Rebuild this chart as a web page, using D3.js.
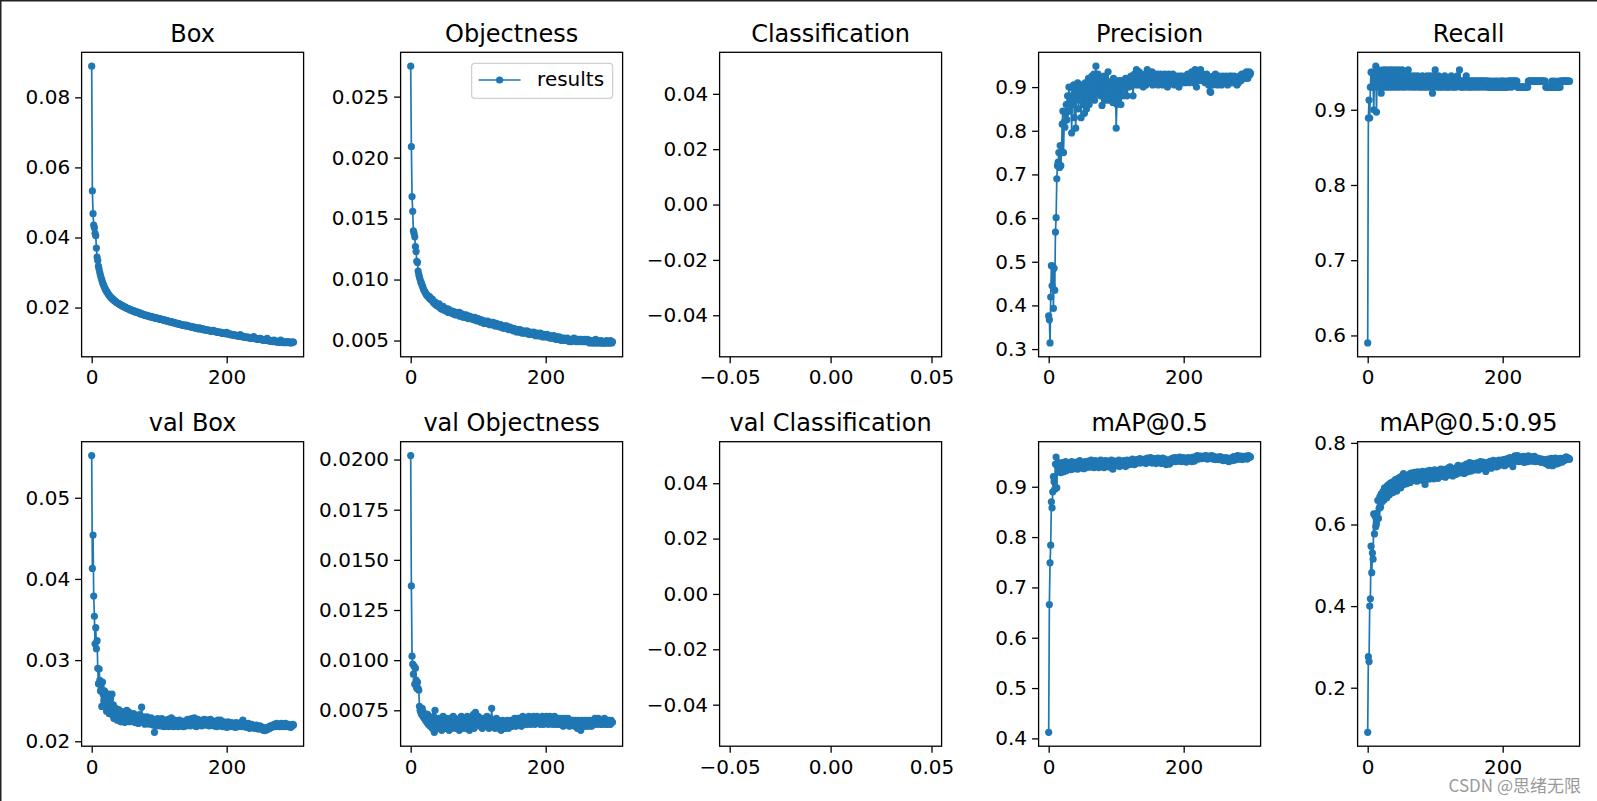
<!DOCTYPE html>
<html>
<head>
<meta charset="utf-8">
<script src="https://cdn.jsdelivr.net/npm/d3@7"></script>
<style>
  body { margin: 0; background: #fff; }
  svg { display: block; font-family: "DejaVu Sans", sans-serif; }
</style>
</head>
<body>
<div id="chart"></div>
<script>
// ------- Data (300 epochs) -------
const epochs = d3.range(300);

const box = [
  .0889,.0533,.0468,.0435,.0428,.0412,.0405,.0370,.0344,.0334,
  .0318,.0309,.0300,.0292,.0285,.0279,.0272,.0267,.0262,.0258,
  .0253,.0250,.0246,.0244,.0240,.0237,.0235,.0232,.0230,.0228,
  .0226,.0225,.0222,.0221,.0219,.0218,.0216,.0215,.0213,.0212,
  .0211,.0210,.0209,.0207,.0206,.0206,.0204,.0203,.0202,.0201,
  .0201,.0199,.0198,.0198,.0196,.0196,.0195,.0193,.0194,.0192,
  .0192,.0190,.0191,.0189,.0188,.0189,.0186,.0187,.0185,.0186,
  .0185,.0183,.0184,.0182,.0181,.0182,.0180,.0179,.0180,.0178,
  .0178,.0177,.0178,.0176,.0175,.0176,.0174,.0175,.0173,.0174,
  .0173,.0172,.0171,.0172,.0170,.0171,.0169,.0170,.0168,.0169,
  .0168,.0167,.0168,.0166,.0166,.0165,.0166,.0164,.0163,.0164,
  .0163,.0162,.0163,.0161,.0160,.0161,.0159,.0160,.0158,.0159,
  .0158,.0157,.0158,.0156,.0155,.0156,.0154,.0155,.0153,.0154,
  .0153,.0152,.0152,.0151,.0150,.0151,.0149,.0150,.0148,.0149,
  .0150,.0148,.0147,.0148,.0146,.0147,.0145,.0146,.0144,.0145,
  .0144,.0143,.0144,.0142,.0142,.0141,.0142,.0140,.0141,.0139,
  .0142,.0140,.0139,.0140,.0138,.0139,.0137,.0138,.0136,.0137,
  .0136,.0136,.0135,.0136,.0134,.0135,.0133,.0134,.0132,.0133,
  .0135,.0132,.0133,.0131,.0132,.0130,.0131,.0129,.0130,.0129,
  .0130,.0128,.0129,.0127,.0128,.0126,.0127,.0126,.0125,.0126,
  .0129,.0125,.0126,.0124,.0125,.0123,.0124,.0122,.0123,.0122,
  .0123,.0121,.0122,.0120,.0121,.0120,.0119,.0120,.0118,.0119,
  .0123,.0118,.0119,.0117,.0118,.0116,.0117,.0116,.0115,.0116,
  .0115,.0116,.0114,.0115,.0113,.0114,.0113,.0112,.0113,.0112,
  .0117,.0112,.0111,.0112,.0110,.0111,.0110,.0109,.0110,.0109,
  .0112,.0109,.0108,.0109,.0107,.0108,.0107,.0106,.0107,.0106,
  .0112,.0106,.0105,.0106,.0104,.0105,.0104,.0105,.0103,.0104,
  .0107,.0104,.0103,.0104,.0102,.0103,.0102,.0103,.0101,.0102,
  .0107,.0102,.0101,.0102,.0100,.0101,.0102,.0100,.0101,.0100,
  .0103,.0101,.0100,.0102,.0100,.0099,.0101,.0100,.0102,.0101
];

const objectness = [
  .0275,.0209,.0168,.0156,.0140,.0138,.0135,.0127,.0123,.0115,
  .0114,.0107,.0104,.0102,.0100,.0098,.0097,.0095,.0094,.0092,
  .0091,.0090,.0089,.0088,.0087,.0087,.0086,.0085,.0086,.0084,
  .0084,.0083,.0084,.0082,.0081,.0082,.0080,.0081,.0079,.0080,
  .0079,.0078,.0080,.0077,.0078,.0076,.0077,.0076,.0078,.0075,
  .0076,.0075,.0076,.0074,.0075,.0076,.0073,.0074,.0075,.0073,
  .0074,.0073,.0072,.0074,.0072,.0073,.0071,.0072,.0073,.0071,
  .0072,.0071,.0073,.0070,.0071,.0072,.0070,.0071,.0069,.0071,
  .0070,.0069,.0071,.0069,.0070,.0068,.0069,.0070,.0068,.0069,
  .0069,.0068,.0069,.0067,.0068,.0069,.0067,.0068,.0066,.0067,
  .0068,.0066,.0067,.0066,.0065,.0067,.0066,.0065,.0066,.0064,
  .0066,.0065,.0064,.0065,.0066,.0064,.0065,.0063,.0064,.0065,
  .0064,.0063,.0065,.0063,.0064,.0062,.0063,.0064,.0062,.0063,
  .0063,.0062,.0061,.0063,.0062,.0061,.0062,.0060,.0061,.0062,
  .0061,.0060,.0062,.0060,.0061,.0059,.0060,.0061,.0059,.0060,
  .0060,.0059,.0058,.0060,.0059,.0058,.0059,.0057,.0058,.0059,
  .0058,.0057,.0059,.0057,.0058,.0056,.0057,.0058,.0056,.0057,
  .0057,.0056,.0058,.0056,.0057,.0055,.0056,.0057,.0055,.0056,
  .0056,.0055,.0057,.0055,.0056,.0054,.0055,.0056,.0054,.0055,
  .0055,.0054,.0056,.0054,.0055,.0053,.0054,.0055,.0053,.0054,
  .0054,.0053,.0055,.0053,.0054,.0053,.0052,.0054,.0053,.0052,
  .0053,.0052,.0054,.0052,.0053,.0051,.0052,.0053,.0051,.0052,
  .0053,.0051,.0052,.0050,.0052,.0051,.0050,.0052,.0051,.0050,
  .0051,.0050,.0052,.0050,.0051,.0049,.0050,.0051,.0049,.0050,
  .0051,.0050,.0052,.0050,.0051,.0049,.0050,.0051,.0049,.0050,
  .0051,.0050,.0049,.0051,.0050,.0049,.0050,.0049,.0051,.0049,
  .0050,.0049,.0051,.0049,.0050,.0048,.0049,.0050,.0049,.0048,
  .0049,.0050,.0048,.0049,.0051,.0048,.0049,.0050,.0048,.0049,
  .0049,.0048,.0050,.0048,.0049,.0048,.0048,.0049,.0048,.0049,
  .0050,.0048,.0049,.0048,.0049,.0048,.0050,.0049,.0048,.0049
];

// zero values are not plotted, so nothing is left in the classification series
const classification = [];

const precision = [
  .376,.367,.314,.419,.491,.445,.490,.393,.485,.435,
  .568,.601,.690,.720,.728,.750,.716,.766,.720,.752,
  .815,.845,.750,.820,.808,.838,.860,.825,.880,.862,
  .900,.845,.870,.880,.795,.898,.860,.905,.830,.890,
  .806,.900,.880,.910,.850,.895,.870,.905,.830,.885,
  .900,.860,.890,.840,.910,.880,.850,.905,.875,.920,
  .860,.895,.915,.875,.925,.890,.900,.930,.870,.915,
  .948,.885,.910,.930,.895,.920,.900,.880,.915,.858,
  .905,.890,.925,.880,.900,.870,.915,.895,.935,.880,
  .900,.870,.910,.890,.905,.865,.920,.895,.880,.910,
  .806,.860,.900,.870,.915,.880,.905,.860,.895,.915,
  .880,.900,.915,.895,.920,.905,.880,.910,.920,.900,
  .915,.905,.925,.910,.920,.880,.915,.930,.905,.920,
  .940,.915,.925,.905,.935,.920,.910,.930,.915,.925,
  .900,.920,.910,.930,.905,.920,.940,.915,.935,.910,
  .925,.910,.920,.935,.905,.920,.915,.930,.910,.925,
  .915,.930,.905,.920,.925,.910,.930,.915,.920,.905,
  .925,.910,.930,.920,.915,.925,.900,.920,.930,.915,
  .920,.910,.925,.915,.930,.920,.905,.925,.915,.920,
  .910,.925,.915,.900,.920,.925,.915,.910,.925,.920,
  .915,.920,.910,.925,.915,.920,.930,.915,.910,.925,
  .920,.915,.935,.920,.925,.910,.930,.940,.920,.900,
  .925,.935,.915,.930,.920,.940,.925,.915,.930,.920,
  .915,.925,.910,.920,.930,.915,.925,.905,.920,.890,
  .888,.910,.920,.905,.925,.915,.910,.930,.915,.920,
  .905,.920,.915,.925,.910,.920,.905,.915,.925,.910,
  .920,.915,.910,.925,.915,.905,.920,.915,.925,.910,
  .915,.925,.910,.920,.915,.925,.910,.920,.915,.905,
  .920,.910,.915,.925,.920,.915,.930,.920,.925,.930,
  .925,.920,.930,.935,.925,.920,.930,.935,.928,.932
];

const recall = [
  .590,.889,.913,.889,.930,.950,.930,.950,.930,.900,
  .945,.938,.958,.897,.945,.930,.953,.938,.945,.930,
  .922,.945,.938,.953,.930,.945,.938,.953,.930,.945,
  .938,.930,.953,.945,.938,.930,.953,.938,.945,.930,
  .945,.953,.938,.930,.945,.938,.953,.930,.938,.945,
  .938,.953,.930,.938,.945,.938,.930,.938,.945,.938,
  .953,.938,.930,.938,.945,.938,.938,.930,.938,.945,
  .938,.930,.938,.938,.945,.938,.930,.938,.938,.930,
  .938,.945,.938,.930,.938,.938,.930,.938,.945,.938,
  .930,.938,.938,.945,.930,.938,.922,.938,.945,.938,
  .953,.938,.930,.938,.938,.945,.930,.938,.938,.930,
  .938,.938,.930,.938,.945,.938,.930,.938,.938,.930,
  .938,.930,.938,.938,.945,.938,.930,.938,.930,.938,
  .938,.930,.938,.945,.938,.938,.953,.938,.930,.938,
  .930,.938,.938,.930,.938,.938,.945,.938,.930,.938,
  .938,.930,.938,.938,.930,.938,.938,.938,.930,.938,
  .938,.938,.930,.938,.938,.938,.930,.938,.938,.938,
  .938,.930,.938,.938,.938,.938,.930,.938,.938,.930,
  .930,.938,.930,.930,.930,.938,.930,.930,.930,.938,
  .930,.930,.938,.930,.930,.930,.938,.930,.930,.938,
  .938,.930,.930,.938,.930,.930,.930,.938,.930,.938,
  .938,.938,.938,.930,.938,.938,.938,.938,.938,.938,
  .938,.938,.930,.930,.930,.930,.930,.930,.930,.930,
  .930,.930,.930,.930,.930,.930,.930,.930,.938,.938,
  .938,.938,.938,.938,.938,.938,.938,.938,.938,.938,
  .938,.938,.938,.938,.938,.938,.938,.938,.938,.938,
  .938,.938,.938,.938,.930,.930,.930,.930,.930,.930,
  .930,.930,.930,.938,.930,.930,.930,.938,.930,.930,
  .930,.930,.930,.938,.930,.930,.938,.938,.938,.938,
  .938,.938,.938,.938,.938,.938,.938,.938,.938,.938
];

const valBox = [
  .0552,.0413,.0454,.0379,.0354,.0320,.0340,.0314,.0324,.0290,
  .0271,.0289,.0275,.0262,.0267,.0243,.0273,.0258,.0250,.0262,
  .0246,.0255,.0237,.0250,.0242,.0258,.0234,.0247,.0252,.0238,
  .0258,.0232,.0245,.0228,.0236,.0241,.0229,.0237,.0226,.0233,
  .0239,.0228,.0234,.0224,.0237,.0231,.0226,.0235,.0229,.0223,
  .0233,.0227,.0238,.0225,.0230,.0236,.0224,.0229,.0233,.0226,
  .0231,.0225,.0234,.0228,.0223,.0230,.0226,.0232,.0227,.0222,
  .0229,.0233,.0226,.0224,.0242,.0228,.0223,.0230,.0226,.0221,
  .0227,.0224,.0230,.0222,.0226,.0228,.0221,.0225,.0229,.0223,
  .0226,.0220,.0224,.0211,.0227,.0222,.0225,.0219,.0228,.0223,
  .0221,.0226,.0219,.0224,.0228,.0220,.0223,.0218,.0225,.0222,
  .0219,.0224,.0221,.0227,.0218,.0222,.0225,.0220,.0229,.0221,
  .0224,.0218,.0222,.0226,.0219,.0223,.0221,.0225,.0218,.0222,
  .0226,.0220,.0223,.0219,.0224,.0222,.0218,.0225,.0221,.0223,
  .0219,.0224,.0227,.0220,.0222,.0226,.0219,.0223,.0228,.0221,
  .0224,.0222,.0229,.0220,.0225,.0218,.0223,.0227,.0221,.0224,
  .0220,.0225,.0222,.0219,.0226,.0223,.0221,.0227,.0224,.0220,
  .0223,.0226,.0221,.0224,.0219,.0222,.0227,.0220,.0223,.0221,
  .0225,.0219,.0222,.0224,.0220,.0218,.0223,.0226,.0221,.0219,
  .0222,.0226,.0220,.0223,.0218,.0221,.0224,.0219,.0222,.0220,
  .0217,.0221,.0224,.0219,.0222,.0218,.0220,.0223,.0219,.0221,
  .0218,.0222,.0220,.0217,.0223,.0219,.0221,.0218,.0222,.0220,
  .0219,.0223,.0221,.0218,.0226,.0220,.0222,.0219,.0221,.0217,
  .0220,.0218,.0222,.0219,.0216,.0220,.0218,.0221,.0217,.0219,
  .0218,.0216,.0219,.0217,.0220,.0216,.0218,.0215,.0217,.0219,
  .0216,.0218,.0215,.0217,.0214,.0216,.0213,.0215,.0217,.0214,
  .0216,.0215,.0217,.0218,.0216,.0219,.0217,.0218,.0220,.0218,
  .0219,.0221,.0218,.0220,.0222,.0219,.0221,.0220,.0218,.0221,
  .0219,.0222,.0220,.0218,.0221,.0219,.0220,.0222,.0218,.0220,
  .0219,.0221,.0218,.0220,.0219,.0217,.0220,.0219,.0221,.0220
];

const valObjectness = [
  .0202,.0137,.0102,.0098,.0093,.0097,.0088,.0096,.0090,.0086,
  .0089,.0086,.0085,.0077,.0075,.0074,.0073,.0076,.0072,.0074,
  .0071,.0073,.0070,.0072,.0069,.0073,.0068,.0071,.0070,.0067,
  .0071,.0069,.0066,.0070,.0072,.0064,.0075,.0068,.0066,.0070,
  .0067,.0069,.0071,.0066,.0068,.0070,.0065,.0069,.0072,.0067,
  .0070,.0068,.0066,.0071,.0069,.0067,.0070,.0065,.0068,.0071,
  .0068,.0066,.0070,.0072,.0067,.0069,.0071,.0066,.0068,.0070,
  .0067,.0069,.0065,.0070,.0068,.0072,.0066,.0069,.0071,.0067,
  .0069,.0066,.0070,.0068,.0072,.0067,.0069,.0065,.0071,.0068,
  .0070,.0067,.0069,.0073,.0066,.0070,.0074,.0068,.0071,.0069,
  .0072,.0068,.0070,.0067,.0071,.0069,.0066,.0070,.0068,.0071,
  .0069,.0067,.0070,.0072,.0068,.0070,.0066,.0069,.0071,.0068,
  .0076,.0069,.0067,.0070,.0068,.0066,.0069,.0071,.0067,.0070,
  .0068,.0066,.0069,.0067,.0065,.0068,.0070,.0066,.0069,.0067,
  .0066,.0069,.0067,.0070,.0068,.0066,.0069,.0067,.0070,.0068,
  .0069,.0067,.0070,.0068,.0071,.0069,.0067,.0070,.0068,.0071,
  .0070,.0068,.0071,.0069,.0067,.0070,.0072,.0069,.0071,.0068,
  .0070,.0069,.0071,.0068,.0070,.0072,.0069,.0071,.0068,.0070,
  .0071,.0069,.0072,.0070,.0068,.0071,.0069,.0072,.0070,.0069,
  .0071,.0070,.0068,.0071,.0069,.0072,.0070,.0068,.0071,.0069,
  .0070,.0072,.0069,.0071,.0068,.0070,.0072,.0069,.0071,.0070,
  .0068,.0071,.0069,.0072,.0070,.0068,.0071,.0069,.0070,.0068,
  .0071,.0069,.0070,.0068,.0071,.0069,.0067,.0070,.0068,.0071,
  .0069,.0070,.0068,.0071,.0069,.0067,.0070,.0068,.0069,.0070,
  .0068,.0070,.0069,.0067,.0070,.0068,.0069,.0066,.0068,.0070,
  .0069,.0067,.0065,.0068,.0070,.0067,.0069,.0068,.0070,.0067,
  .0069,.0068,.0070,.0067,.0069,.0068,.0070,.0069,.0067,.0068,
  .0070,.0068,.0069,.0071,.0069,.0070,.0068,.0069,.0071,.0070,
  .0069,.0068,.0070,.0069,.0068,.0070,.0069,.0071,.0070,.0068,
  .0069,.0070,.0068,.0069,.0070,.0069,.0068,.0070,.0069,.0069
];

const valClassification = [];

const map50 = [
  .412,.666,.749,.784,.870,.858,.890,.920,.910,.895,
  .945,.959,.898,.940,.930,.948,.935,.945,.928,.942,
  .935,.948,.930,.944,.938,.950,.932,.946,.940,.936,
  .947,.938,.942,.934,.950,.940,.945,.936,.948,.941,
  .937,.949,.943,.935,.946,.940,.952,.938,.944,.947,
  .940,.948,.936,.945,.950,.942,.938,.947,.943,.951,
  .944,.939,.948,.953,.941,.946,.950,.938,.945,.952,
  .947,.941,.950,.944,.938,.949,.946,.953,.940,.945,
  .950,.943,.938,.948,.952,.945,.940,.947,.951,.944,
  .939,.948,.946,.953,.942,.935,.949,.945,.951,.943,
  .947,.950,.942,.945,.953,.940,.948,.944,.951,.946,
  .943,.949,.952,.945,.940,.948,.953,.946,.950,.944,
  .948,.952,.945,.950,.955,.947,.951,.944,.953,.949,
  .946,.954,.950,.948,.952,.956,.947,.951,.954,.949,
  .952,.948,.955,.950,.946,.953,.957,.949,.951,.955,
  .950,.958,.953,.947,.955,.951,.949,.956,.952,.946,
  .954,.950,.957,.952,.948,.955,.951,.946,.953,.957,
  .949,.952,.955,.946,.944,.950,.953,.948,.951,.945,
  .952,.955,.949,.953,.957,.951,.954,.958,.950,.955,
  .953,.957,.951,.955,.959,.952,.956,.950,.954,.958,
  .955,.951,.957,.953,.949,.956,.954,.958,.952,.955,
  .957,.953,.950,.956,.959,.954,.951,.957,.955,.960,
  .962,.958,.955,.960,.957,.961,.959,.956,.960,.958,
  .961,.957,.959,.962,.958,.955,.960,.957,.961,.958,
  .956,.959,.962,.957,.955,.960,.958,.954,.957,.959,
  .955,.958,.954,.957,.960,.956,.953,.958,.955,.952,
  .956,.954,.958,.955,.952,.957,.954,.950,.956,.953,
  .957,.955,.952,.958,.960,.956,.953,.957,.954,.958,
  .962,.956,.959,.955,.958,.961,.957,.954,.959,.956,
  .960,.957,.961,.958,.955,.959,.962,.958,.960,.959
];

const map5095 = [
  .0906,.276,.264,.400,.418,.547,.482,.530,.515,.626,
  .577,.620,.595,.602,.628,.659,.615,.640,.668,.642,
  .675,.655,.668,.682,.660,.690,.672,.685,.665,.695,
  .680,.698,.672,.690,.702,.685,.695,.678,.705,.692,
  .688,.710,.697,.682,.712,.700,.693,.715,.705,.690,
  .718,.702,.710,.725,.698,.714,.706,.720,.700,.716,
  .709,.722,.712,.703,.726,.715,.708,.720,.714,.728,
  .711,.724,.716,.706,.729,.718,.712,.727,.709,.721,
  .715,.730,.719,.708,.726,.698,.720,.713,.731,.717,
  .724,.711,.733,.719,.726,.715,.729,.720,.712,.734,
  .722,.716,.730,.725,.713,.732,.719,.727,.736,.721,
  .728,.718,.735,.724,.730,.716,.733,.726,.720,.738,
  .725,.732,.741,.722,.736,.729,.719,.737,.731,.727,
  .734,.723,.740,.729,.745,.733,.726,.739,.731,.742,
  .730,.744,.736,.725,.741,.734,.748,.737,.729,.743,
  .736,.752,.740,.731,.746,.738,.750,.733,.744,.739,
  .747,.736,.751,.742,.733,.749,.740,.754,.738,.745,
  .741,.753,.737,.748,.744,.730,.746,.752,.740,.749,
  .743,.755,.747,.738,.751,.745,.757,.742,.750,.746,
  .752,.741,.756,.748,.744,.758,.750,.746,.755,.749,
  .747,.759,.752,.744,.757,.750,.761,.748,.754,.762,
  .751,.764,.756,.748,.760,.742,.763,.757,.768,.759,
  .762,.755,.769,.760,.754,.766,.758,.763,.756,.765,
  .759,.767,.752,.762,.757,.765,.760,.754,.768,.761,
  .757,.764,.759,.766,.755,.762,.758,.767,.760,.754,
  .762,.756,.763,.759,.755,.761,.757,.752,.760,.756,
  .753,.759,.755,.750,.757,.748,.754,.760,.745,.752,
  .758,.749,.762,.755,.744,.760,.751,.757,.763,.754,
  .748,.756,.761,.750,.758,.754,.762,.757,.753,.760,
  .756,.763,.758,.761,.766,.759,.764,.760,.762,.760
];

const titles = ["Box", "Objectness", "Classification", "Precision", "Recall",
  "val Box", "val Objectness", "val Classification", "mAP@0.5", "mAP@0.5:0.95"];
const seriesList = [box, objectness, classification, precision, recall,
  valBox, valObjectness, valClassification, map50, map5095];

// tick labels per panel
const yTickValues = [
  [0.02, 0.04, 0.06, 0.08],
  [0.005, 0.010, 0.015, 0.020, 0.025],
  [-0.04, -0.02, 0, 0.02, 0.04],
  [0.3, 0.4, 0.5, 0.6, 0.7, 0.8, 0.9],
  [0.6, 0.7, 0.8, 0.9],
  [0.02, 0.03, 0.04, 0.05],
  [0.0075, 0.0100, 0.0125, 0.0150, 0.0175, 0.0200],
  [-0.04, -0.02, 0, 0.02, 0.04],
  [0.4, 0.5, 0.6, 0.7, 0.8, 0.9],
  [0.2, 0.4, 0.6, 0.8]
];
const yTickFormats = [".2f", ".3f", ".2f", ".1f", ".1f", ".2f", ".4f", ".2f", ".1f", ".1f"];
const epochTicks = [0, 200];
const emptyTicks = [-0.05, 0, 0.05];
const legendLabel = "results";

// ------- Layout -------
const W = 1597, H = 801;
const axW = 222, axH = 304.5;
const colX = c => 81.6 + c * 319;
const rowY = [52.3, 441.7];
const blue = "#1f77b4";

const svg = d3.select("#chart")
  .append("svg")
  .attr("width", W)
  .attr("height", H);

svg.append("rect").attr("width", W).attr("height", H).attr("fill", "#fff");

// thin frame along top and left of the picture
svg.append("path")
  .attr("d", `M0.75,${H}V0.75H${W}`)
  .attr("fill", "none")
  .attr("stroke", "#222")
  .attr("stroke-width", 1.5);

// matplotlib-style autoscale: data extent plus 5% margins
function padded(ext) {
  const pad = (ext[1] - ext[0]) * 0.05;
  return [ext[0] - pad, ext[1] + pad];
}

seriesList.forEach((values, i) => {
  const row = Math.floor(i / 5), col = i % 5;
  const g = svg.append("g")
    .attr("transform", `translate(${colX(col)},${rowY[row]})`);

  const empty = values.length === 0;

  const x = d3.scaleLinear()
    .domain(empty ? [-0.055, 0.055] : padded(d3.extent(epochs)))
    .range([0, axW]);

  const y = d3.scaleLinear()
    .domain(empty ? [-0.055, 0.055] : padded(d3.extent(values)))
    .range([axH, 0]);

  if (!empty) {
    const line = d3.line()
      .x((d, k) => x(epochs[k]))
      .y(d => y(d));

    g.append("path")
      .datum(values)
      .attr("fill", "none")
      .attr("stroke", blue)
      .attr("stroke-width", 1.7)
      .attr("d", line);

    g.append("g")
      .selectAll("circle")
      .data(values)
      .enter()
      .append("circle")
      .attr("cx", (d, k) => x(epochs[k]))
      .attr("cy", d => y(d))
      .attr("r", 3.6)
      .attr("fill", blue);
  }

  // ------- Axes -------
  const xAxis = g.append("g")
    .attr("transform", `translate(0,${axH})`)
    .call(d3.axisBottom(x)
      .tickValues(empty ? emptyTicks : epochTicks)
      .tickFormat(empty ? d3.format(".2f") : d3.format("d"))
      .tickSize(6.5)
      .tickPadding(7));

  const yAxis = g.append("g")
    .call(d3.axisLeft(y)
      .tickValues(yTickValues[i])
      .tickFormat(d3.format(yTickFormats[i]))
      .tickSize(6.5)
      .tickPadding(5));

  [xAxis, yAxis].forEach(a => {
    a.select(".domain").remove();
    a.selectAll("line").attr("stroke", "#000").attr("stroke-width", 1.3);
    a.selectAll("text")
      .attr("fill", "#000")
      .style("font-family", "DejaVu Sans")
      .style("font-size", "20px");
  });

  // spines
  g.append("rect")
    .attr("width", axW)
    .attr("height", axH)
    .attr("fill", "none")
    .attr("stroke", "#000")
    .attr("stroke-width", 1.3);

  // title
  g.append("text")
    .attr("x", axW / 2)
    .attr("y", -10.5)
    .attr("text-anchor", "middle")
    .style("font-size", "24px")
    .attr("fill", "#000")
    .text(titles[i]);

  // legend sits in the Objectness panel
  if (i === 1) {
    const lg = g.append("g")
      .attr("transform", `translate(${axW - 10 - 141},11)`);
    lg.append("rect")
      .attr("width", 141)
      .attr("height", 35)
      .attr("rx", 3)
      .attr("fill", "#fff")
      .attr("fill-opacity", 0.8)
      .attr("stroke", "#d0d0d0")
      .attr("stroke-width", 1.3);
    lg.append("line")
      .attr("x1", 7).attr("x2", 49)
      .attr("y1", 16.7).attr("y2", 16.7)
      .attr("stroke", blue)
      .attr("stroke-width", 1.7);
    lg.append("circle")
      .attr("cx", 28).attr("cy", 16.7)
      .attr("r", 3.6)
      .attr("fill", blue);
    lg.append("text")
      .attr("x", 65.5)
      .attr("y", 23.2)
      .style("font-size", "20px")
      .attr("fill", "#000")
      .text(legendLabel);
  }
});

// watermark
svg.append("text")
  .attr("x", 1581)
  .attr("y", 792)
  .attr("text-anchor", "end")
  .style("font-family", "'Noto Sans CJK SC', 'Noto Sans', sans-serif")
  .style("font-size", "17px")
  .attr("fill", "#9a9a9a")
  .text("CSDN @思绪无限");
</script>
</body>
</html>
